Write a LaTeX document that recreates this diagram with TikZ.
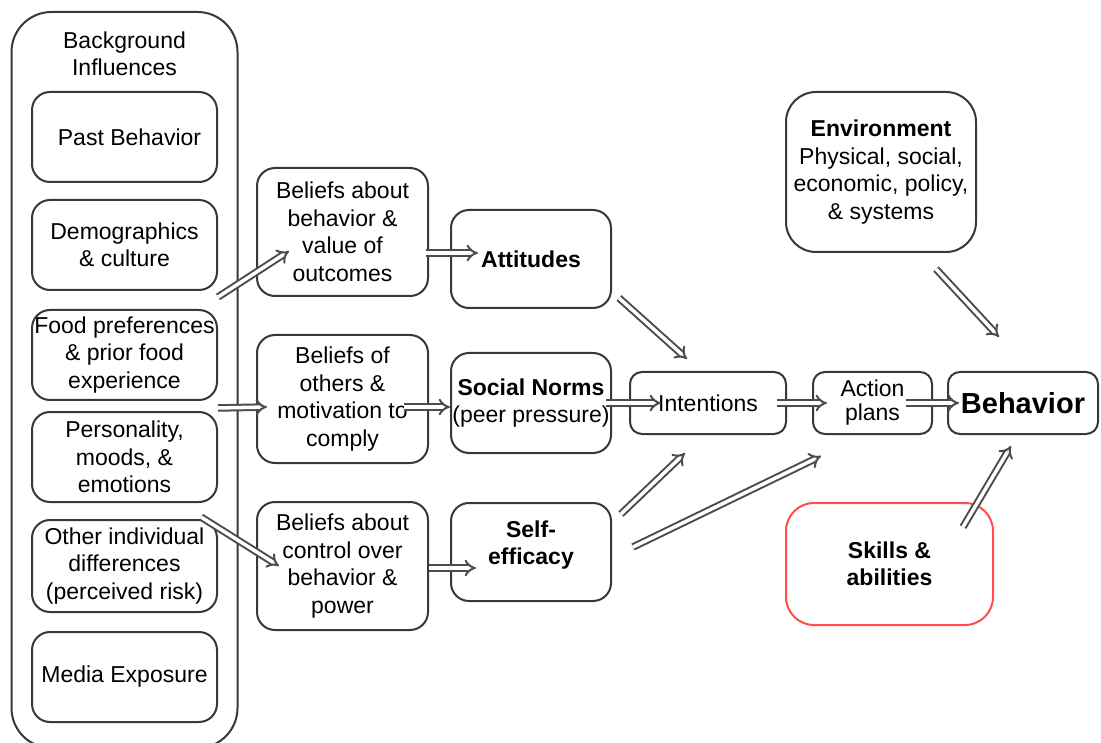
\documentclass[tikz,border=0pt]{standalone}
\usepackage{fontspec}
\setmainfont{Liberation Sans}
\usetikzlibrary{arrows.meta,calc}
\tikzset{
  box/.style={draw=black!78, line width=2pt, rounded corners=18pt, align=center, inner sep=0pt, fill=white,
    font=\fontsize{23}{27.5}\selectfont},
  redbox/.style={box, draw=red!70!white},
  plain/.style={align=center, inner sep=0pt, font=\fontsize{23}{27.5}\selectfont},
  dbl/.style={draw=black!70, line width=2pt, double=white, double distance=3.5pt,
    -{Implies[length=9pt,width=19pt]}},
}
\begin{document}
\begin{tikzpicture}[x=1pt,y=-1pt]
\useasboundingbox[fill=white] (0,0) rectangle (1101,743);
% background influences
\node[box, rounded corners=40pt, minimum width=226pt, minimum height=736pt] (bg) at (124.5,380) {};
\node[plain] (bgt) at (124.5,54) {Background\\Influences};
\node[box, minimum width=185pt, minimum height=90pt] (past) at (124.5,137) {\hspace*{10pt}Past Behavior};
\node[box, minimum width=185pt, minimum height=90pt] (demo) at (124.5,245) {Demographics\\\& culture};
\node[box, minimum width=185pt, minimum height=90pt] (food) at (124.5,355) {Food preferences\\\& prior food\\experience};
\node[box, minimum width=185pt, minimum height=90pt] (pers) at (124.5,457) {Personality,\\moods, \&\\emotions};
\node[box, minimum width=185pt, minimum height=92pt] (other) at (124.5,566) {Other individual\\differences\\(perceived risk)};
\node[box, minimum width=185pt, minimum height=90pt] (media) at (124.5,677) {Media Exposure};
% beliefs
\node[box, minimum width=171pt, minimum height=128pt] (b1) at (342.5,232) {Beliefs about\\behavior \&\\value of\\outcomes};
\node[box, minimum width=171pt, minimum height=128pt] (b2) at (342.5,399) {Beliefs of\\others \&\\motivation to\\comply};
\node[box, minimum width=171pt, minimum height=128pt] (b3) at (342.5,566) {Beliefs about\\control over\\behavior \&\\power};
% middle
\node[box, minimum width=160pt, minimum height=98pt, font=\fontsize{23}{27.5}\selectfont\bfseries] (att) at (531,259) {Attitudes};
\node[box, minimum width=160pt, minimum height=100pt] (sn) at (531,403) {\textbf{Social Norms}\\(peer pressure)};
\node[box, minimum width=160pt, minimum height=98pt] (se) at (531,552) {};
\node[plain, font=\fontsize{23}{27.5}\selectfont\bfseries] (set) at (531,545) {Self-\\efficacy};
% right
\node[box, minimum width=156pt, minimum height=62pt, rounded corners=12pt] (int) at (708,403) {Intentions};
\node[box, minimum width=119pt, minimum height=62pt, rounded corners=12pt, font=\fontsize{23}{24}\selectfont] (ap) at (872.5,403) {Action\\plans};
\node[box, minimum width=150pt, minimum height=62pt, rounded corners=12pt, font=\fontsize{29}{32}\selectfont\bfseries] (beh) at (1023,403) {Behavior};
\node[box, minimum width=190pt, minimum height=160pt, rounded corners=30pt] (env) at (881,172) {\textbf{Environment}\\Physical, social,\\economic, policy,\\\& systems};
\node[redbox, minimum width=207pt, minimum height=122pt, rounded corners=28pt, font=\fontsize{23}{27.5}\selectfont\bfseries] (sk) at (889.5,564) {Skills \&\\abilities};
% arrows
\draw[dbl] ($(food.north east)+(0,-12)$) -- ($(b1.south west)+(33,-46)$);
\draw[dbl] ($(food.south east)+(0,7)$) -- ($(b2.west)+(11,8)$);
\draw[dbl] ($(pers.south east)+(-17,14)$) -- ($(b3.west)+(23,0)$);
\draw[dbl] ($(b1.east)+(-3,21)$) -- ($(att.west)+(28,-6)$);
\draw[dbl] ($(b2.east)+(-25,8)$) -- ($(sn.west)+(0,4)$);
\draw[dbl] ($(b3.east)+(0,2)$) -- ($(se.west)+(26,16)$);
\draw[dbl] ($(att.south east)+(7,-11)$) -- ($(int.north west)+(58,-12)$);
\draw[dbl] ($(sn.east)+(-6,0)$) -- ($(int.west)+(32,0)$);
\draw[dbl] ($(se.north east)+(9,12)$) -- ($(int.south west)+(56,18)$);
\draw[dbl] ($(se.east)+(21,-5)$) -- ($(ap.south west)+(9,21)$);
\draw[dbl] ($(int.east)+(-10,0)$) -- ($(ap.west)+(15,0)$);
\draw[dbl] ($(ap.east)+(-27,0)$) -- ($(beh.west)+(12,0)$);
\draw[dbl] ($(env.south east)+(-41,16)$) -- ($(beh.north west)+(52,-34)$);
\draw[dbl] ($(sk.north east)+(-31,25)$) -- ($(beh.south west)+(64,11)$);
\end{tikzpicture}
\end{document}
